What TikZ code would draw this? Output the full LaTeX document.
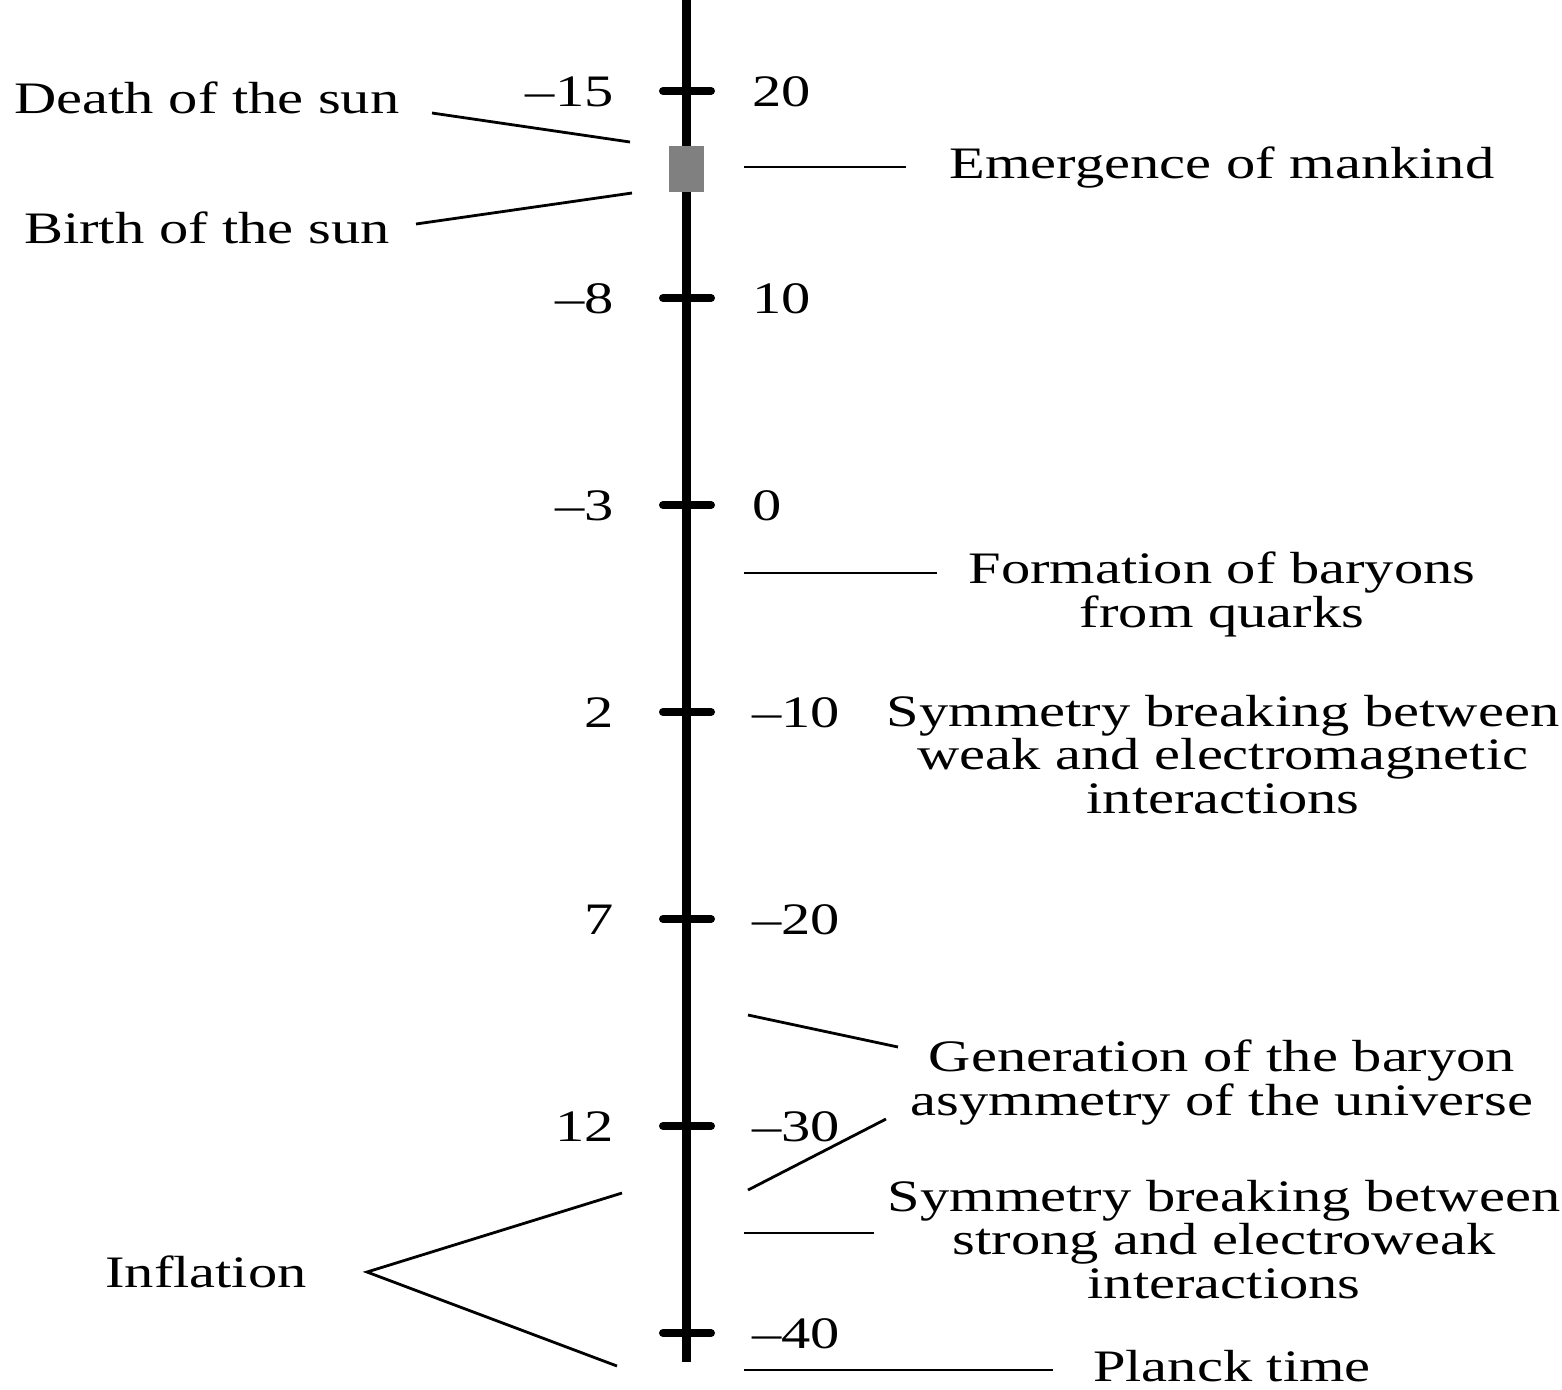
\documentclass[tikz,border=0pt]{standalone}
\usepackage{fontspec}
\setmainfont[FakeStretch=1.3]{Liberation Serif}
\begin{document}
\begin{tikzpicture}[x=0.5pt,y=-0.5pt,
  lbl/.style={font=\fontsize{22.5pt}{21.75pt}\selectfont, inner sep=0pt, align=center},
  lead/.style={line width=1.4pt},
  axisline/.style={line width=4.5pt},
  tickmark/.style={line width=4pt, line cap=round}]
\useasboundingbox (0,0) rectangle (1562,1389);
% axis
\coordinate (axtop) at (686,0);
\coordinate (axbot) at (686,1362);
\draw[axisline] (axtop) -- (axbot);
% ticks and scale labels
\foreach \y/\l/\r [count=\i] in {91/\textendash15/20, 298/\textendash8/10, 505/\textendash3/0, 712/2/\textendash10, 919/7/\textendash20, 1126/12/\textendash30, 1333/{}/\textendash40}{
  \coordinate (tl\i) at (663,\y);
  \coordinate (tr\i) at (711,\y);
  \draw[tickmark] (tl\i) -- (tr\i);
  \node[lbl, anchor=base east] (L\i) at (614,\y+15) {\l};
  \node[lbl, anchor=base west] (R\i) at (752,\y+15) {\r};
}
% sun box
\node[fill=black!50, inner sep=0pt, minimum width=17.5pt, minimum height=23pt] (sunbox) at (686.5,169) {};
% left labels
\node[lbl, anchor=base] (death) at (207,113) {Death of the sun};
\node[lbl, anchor=base] (birth) at (207,243) {Birth of the sun};
\node[lbl, anchor=base] (infl) at (206,1287) {Inflation};
\coordinate (d1) at (432,113); \coordinate (d2) at (630,142);
\coordinate (b1) at (416,224); \coordinate (b2) at (632,193);
\draw[lead] (d1) -- (d2);
\draw[lead] (b1) -- (b2);
\coordinate (i0) at (367,1272);
\coordinate (i1) at (622,1193);
\coordinate (i2) at (617,1366);
\draw[lead] (i1) -- (i0) -- (i2);
% right labels
\node[lbl, anchor=base] (mank) at (1222,178) {Emergence of mankind};
\coordinate (m1) at (744,167); \coordinate (m2) at (906,167);
\draw[lead] (m1) -- (m2);
\node[lbl, anchor=base] (bary) at (1222,627) {Formation of baryons\\from quarks};
\coordinate (f1) at (744,573); \coordinate (f2) at (937,573);
\draw[lead] (f1) -- (f2);
\node[lbl, anchor=base] (weak) at (1223,813) {Symmetry breaking between\\weak and electromagnetic\\interactions};
\node[lbl, anchor=base] (gen) at (1222,1115) {Generation of the baryon\\asymmetry of the universe};
\coordinate (g1) at (748,1015); \coordinate (g2) at (898,1047);
\coordinate (g3) at (748,1190); \coordinate (g4) at (886,1119);
\draw[lead] (g1) -- (g2);
\draw[lead] (g3) -- (g4);
\node[lbl, anchor=base] (strong) at (1224,1298) {Symmetry breaking between\\strong and electroweak\\interactions};
\coordinate (s1) at (744,1233); \coordinate (s2) at (874,1233);
\draw[lead] (s1) -- (s2);
\node[lbl, anchor=base] (planck) at (1232,1381) {Planck time};
\coordinate (p1) at (744,1370); \coordinate (p2) at (1053,1370);
\draw[lead] (p1) -- (p2);
\end{tikzpicture}
\end{document}
